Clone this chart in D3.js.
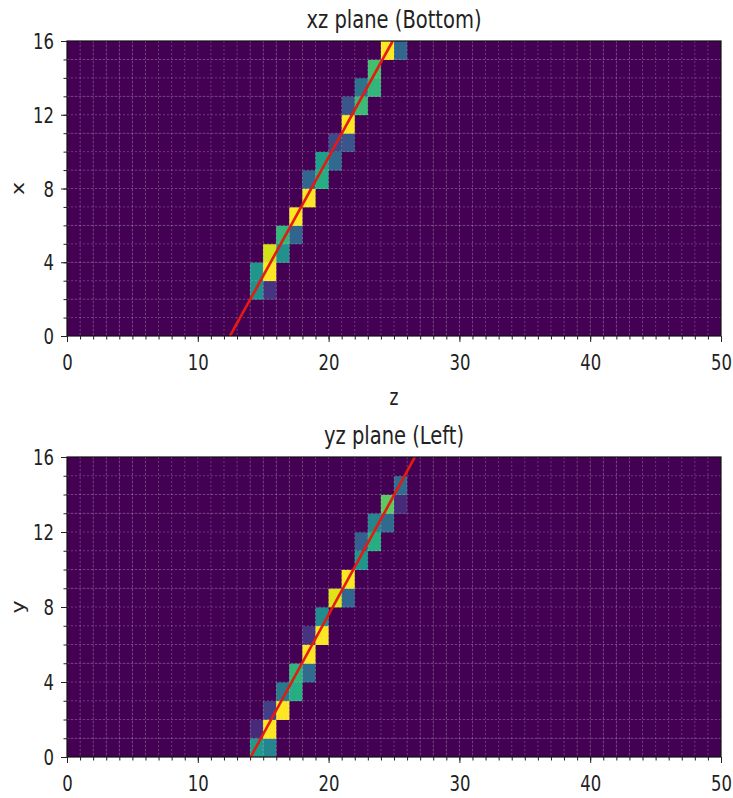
<!DOCTYPE html>
<html>
<head>
<meta charset="utf-8">
<script src="https://cdn.jsdelivr.net/npm/d3@7"></script>
<style>
  html, body { margin: 0; padding: 0; background: #fff; }
  svg { display: block; }
</style>
</head>
<body>
<script>
// Detector hit maps projected onto two planes, with a straight-line track fit.

const zTicks = [0, 10, 20, 30, 40, 50];
const planeTicks = [0, 4, 8, 12, 16];
const nZ = 50;
const nRows = 16;

// [row, z column, normalised charge]
const xzCells = [
  [15, 24, 1.0], [15, 25, 0.33],
  [14, 23, 0.70],
  [13, 22, 0.38], [13, 23, 0.66],
  [12, 21, 0.26], [12, 22, 0.68],
  [11, 21, 1.0],
  [10, 20, 0.22], [10, 21, 0.26],
  [9, 19, 0.56], [9, 20, 0.34],
  [8, 18, 0.33], [8, 19, 0.62],
  [7, 18, 1.0],
  [6, 17, 1.0],
  [5, 16, 0.66], [5, 17, 0.32],
  [4, 15, 0.93], [4, 16, 0.50],
  [3, 14, 0.52], [3, 15, 1.0],
  [2, 14, 0.50], [2, 15, 0.15]
];

const yzCells = [
  [14, 25, 0.35],
  [13, 24, 0.75], [13, 25, 0.12],
  [12, 23, 0.45], [12, 24, 0.34],
  [11, 22, 0.30], [11, 23, 0.62],
  [10, 22, 0.52],
  [9, 21, 1.0],
  [8, 20, 0.95], [8, 21, 0.33],
  [7, 19, 0.48],
  [6, 18, 0.15], [6, 19, 1.0],
  [5, 18, 1.0],
  [4, 17, 0.65], [4, 18, 0.35],
  [3, 16, 0.40], [3, 17, 0.62],
  [2, 15, 0.18], [2, 16, 1.0],
  [1, 14, 0.12], [1, 15, 1.0],
  [0, 14, 0.55], [0, 15, 0.45]
];

// Fitted track endpoints, [z, row coordinate]
const xzFit = [[12.46, 0], [24.9, 16]];
const yzFit = [[14.04, 0], [26.6, 16]];

const panels = [
  { title: "xz plane (Bottom)", yLabel: "x", xLabel: "z", cells: xzCells, fit: xzFit, top: 41, bottom: 336 },
  { title: "yz plane (Left)", yLabel: "y", xLabel: null, cells: yzCells, fit: yzFit, top: 457, bottom: 757 }
];

const W = 733, H = 798;
const left = 67, right = 721;
const stretch = 1.3;          // glyphs are drawn taller than wide
const font = "DejaVu Sans, sans-serif";
const ink = "#222";

const svg = d3.select("body").append("svg")
  .attr("width", W).attr("height", H);

const color = d3.scaleSequential(d3.interpolateViridis).domain([0, 1]);

panels.forEach((p, i) => {
  const x = d3.scaleLinear().domain([0, nZ]).range([left, right]);
  const y = d3.scaleLinear().domain([0, nRows]).range([p.bottom, p.top]);
  const g = svg.append("g");

  const clipId = "clip" + i;
  svg.append("clipPath").attr("id", clipId)
    .append("rect")
    .attr("x", left).attr("y", p.top)
    .attr("width", right - left).attr("height", p.bottom - p.top);

  // full image grid, zero everywhere except hit cells
  const matrix = d3.range(nRows).flatMap(r => d3.range(nZ).map(c => ({ r, c, v: 0 })));
  p.cells.forEach(([r, c, v]) => { matrix[r * nZ + c].v = v; });

  const img = g.append("g").attr("clip-path", `url(#${clipId})`);
  img.selectAll("rect.cell")
    .data(matrix)
    .join("rect")
    .attr("class", "cell")
    .attr("x", d => x(d.c))
    .attr("y", d => y(d.r + 1))
    .attr("width", x(1) - x(0) + 0.4)
    .attr("height", y(0) - y(1) + 0.4)
    .attr("fill", d => color(d.v));

  // faint dashed grid on every unit
  img.selectAll("line.vg")
    .data(d3.range(1, nZ))
    .join("line")
    .attr("x1", d => x(d)).attr("x2", d => x(d))
    .attr("y1", p.top).attr("y2", p.bottom)
    .attr("stroke", "rgba(255,255,255,0.22)")
    .attr("stroke-width", 1)
    .attr("stroke-dasharray", "2,2");
  img.selectAll("line.hg")
    .data(d3.range(1, nRows))
    .join("line")
    .attr("y1", d => y(d)).attr("y2", d => y(d))
    .attr("x1", left).attr("x2", right)
    .attr("stroke", "rgba(255,255,255,0.22)")
    .attr("stroke-width", 1)
    .attr("stroke-dasharray", "2,2");

  // track fit
  img.append("path")
    .datum(p.fit)
    .attr("d", d3.line().x(d => x(d[0])).y(d => y(d[1])))
    .attr("fill", "none")
    .attr("stroke", "#e51a10")
    .attr("stroke-width", 2.6);

  // frame
  g.append("rect")
    .attr("x", left).attr("y", p.top)
    .attr("width", right - left).attr("height", p.bottom - p.top)
    .attr("fill", "none").attr("stroke", "#111").attr("stroke-width", 1.2);

  // bottom axis: minor then major ticks
  const xMinor = g.append("g").attr("transform", `translate(0,${p.bottom})`)
    .call(d3.axisBottom(x).tickValues(d3.range(0, nZ + 1)).tickSize(3.5).tickFormat(""));
  xMinor.select(".domain").remove();
  xMinor.attr("color", ink);

  const xMajor = g.append("g").attr("transform", `translate(0,${p.bottom})`)
    .call(d3.axisBottom(x).tickValues(zTicks).tickSize(6).tickFormat(d3.format("d")));
  xMajor.select(".domain").remove();
  xMajor.attr("color", ink).attr("font-size", 16.5).attr("font-family", font);
  xMajor.selectAll("text")
    .attr("y", null).attr("dy", null)
    .attr("transform", `translate(0,34) scale(1,${stretch})`)
    .attr("fill", ink);

  // left axis
  const yMinor = g.append("g").attr("transform", `translate(${left},0)`)
    .call(d3.axisLeft(y).tickValues(d3.range(0, nRows + 1)).tickSize(3.5).tickFormat(""));
  yMinor.select(".domain").remove();
  yMinor.attr("color", ink);

  const yMajor = g.append("g").attr("transform", `translate(${left},0)`)
    .call(d3.axisLeft(y).tickValues(planeTicks).tickSize(6).tickFormat(d3.format("d")));
  yMajor.select(".domain").remove();
  yMajor.attr("color", ink).attr("font-size", 16.5).attr("font-family", font);
  yMajor.selectAll("text")
    .attr("x", null).attr("dy", "0.36em")
    .attr("transform", `translate(-13,0) scale(1,${stretch})`)
    .attr("fill", ink);

  // title
  g.append("text")
    .attr("transform", `translate(${(left + right) / 2},${p.top - 13}) scale(1,${stretch})`)
    .attr("text-anchor", "middle")
    .attr("font-family", font).attr("font-size", 19.5)
    .attr("fill", ink)
    .text(p.title);

  // y label
  g.append("text")
    .attr("transform", `translate(24,${(p.top + p.bottom) / 2}) rotate(-90) scale(${stretch},1)`)
    .attr("text-anchor", "middle")
    .attr("font-family", font).attr("font-size", 17)
    .attr("fill", ink)
    .text(p.yLabel);

  // x label
  if (p.xLabel) {
    g.append("text")
      .attr("transform", `translate(${(left + right) / 2},${p.bottom + 69}) scale(1,${stretch})`)
      .attr("text-anchor", "middle")
      .attr("font-family", font).attr("font-size", 17)
      .attr("fill", ink)
      .text(p.xLabel);
  }
});
</script>
</body>
</html>
